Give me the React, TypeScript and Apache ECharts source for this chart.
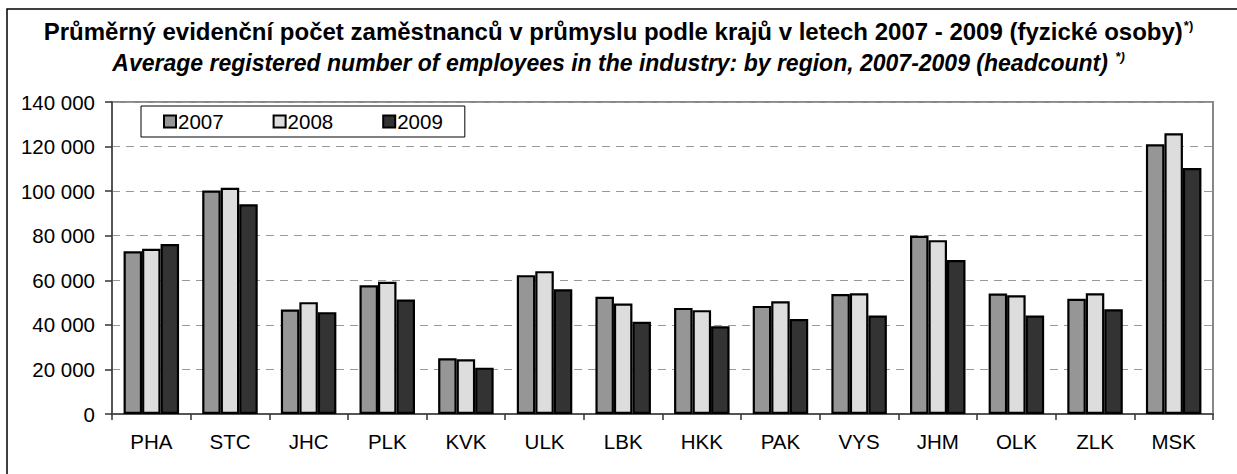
import React, { useEffect, useRef } from "react";
import * as echarts from "echarts";

const categories = ["PHA", "STC", "JHC", "PLK", "KVK", "ULK", "LBK", "HKK", "PAK", "VYS", "JHM", "OLK", "ZLK", "MSK"];
const years = ["2007", "2008", "2009"];
const values2007 = [73000, 100300, 46900, 57800, 25000, 62300, 52600, 47600, 48500, 53800, 80000, 54100, 51700, 121000];
const values2008 = [74100, 101500, 50200, 59300, 24600, 64100, 49600, 46600, 50600, 54200, 78000, 53300, 54200, 126000];
const values2009 = [76300, 94100, 45700, 51400, 20800, 56000, 41400, 39400, 42600, 44200, 69100, 44200, 47000, 110400];
const seriesColors = ["#969696", "#dddddd", "#333333"];

const FONT = "'Liberation Sans', Arial, sans-serif";

export default function App() {
  const ref = useRef<HTMLDivElement>(null);
  useEffect(() => {
    if (!ref.current) return;
    const chart = echarts.init(ref.current, null, { renderer: "svg" });
    const data = [values2007, values2008, values2009];
    chart.setOption({
      animation: false,
      backgroundColor: "#ffffff",
      textStyle: { fontFamily: FONT, color: "#000" },
      title: [
        {
          text: "{t|Průměrný evidenční počet zaměstnanců v průmyslu podle krajů v letech 2007 - 2009 (fyzické osoby)}{s|*)}",
          left: "center",
          top: 14,
          textStyle: {
            rich: {
              t: { fontFamily: FONT, fontWeight: "bold", fontSize: 24, color: "#000" },
              s: { fontFamily: FONT, fontWeight: "bold", fontSize: 13, color: "#000", verticalAlign: "top", padding: [0, 0, 12, 1] },
            },
          },
        },
        {
          text: "{t|Average registered number of employees in the industry: by region, 2007-2009 (headcount) }{s|*)}",
          left: "center",
          top: 45,
          textStyle: {
            rich: {
              t: { fontFamily: FONT, fontStyle: "italic", fontSize: 23, color: "#000" },
              s: { fontFamily: FONT, fontStyle: "italic", fontSize: 13, color: "#000", verticalAlign: "top", padding: [0, 0, 12, 1] },
            },
          },
        },
      ],
      legend: {
        left: 141,
        top: 106,
        orient: "horizontal",
        data: years,
        icon: "rect",
        itemWidth: 12,
        itemHeight: 12,
        itemGap: 49,
        padding: [5, 22, 5, 22],
        borderColor: "#000",
        borderWidth: 1,
        backgroundColor: "#fff",
        textStyle: { fontFamily: FONT, fontSize: 20.5, color: "#000", padding: [0, 0, 0, -3] },
      },
      grid: {
        left: 112,
        right: 24,
        top: 102,
        bottom: 60,
        show: true,
        borderColor: "#888",
        borderWidth: 2,
        backgroundColor: "transparent",
      },
      xAxis: {
        type: "category",
        data: categories,
        axisLine: { show: true, lineStyle: { color: "#555", width: 2 } },
        axisTick: { show: true, length: 6, lineStyle: { color: "#333", width: 1.5 } },
        axisLabel: { fontFamily: FONT, fontSize: 20.5, color: "#000", margin: 17 },
      },
      yAxis: {
        type: "value",
        min: 0,
        max: 140000,
        interval: 20000,
        axisLine: { show: true, lineStyle: { color: "#555", width: 2 } },
        axisTick: { show: true, length: 7, lineStyle: { color: "#333", width: 1.5 } },
        axisLabel: {
          fontFamily: FONT,
          fontSize: 20.5,
          color: "#000",
          margin: 17,
          formatter: (v: number) => String(v).replace(/\B(?=(\d{3})+(?!\d))/g, " "),
        },
        splitLine: { show: true, lineStyle: { color: "#999", width: 1, type: [8, 6] } },
      },
      series: years.map((y, i) => ({
        name: y,
        type: "bar",
        data: data[i],
        barWidth: 18.5,
        barGap: "0%",
        itemStyle: { color: seriesColors[i], borderColor: "#000", borderWidth: 2.2 },
      })),
      graphic: [
        {
          type: "rect",
          shape: { x: 7, y: 9, width: 1240, height: 480 },
          style: { fill: "none", stroke: "#000", lineWidth: 1.5 },
          silent: true,
          z: 100,
        },
      ],
    });
    return () => chart.dispose();
  }, []);
  return <div ref={ref} style={{ position: "fixed", left: 0, top: 0, width: 1237, height: 474 }} />;
}
